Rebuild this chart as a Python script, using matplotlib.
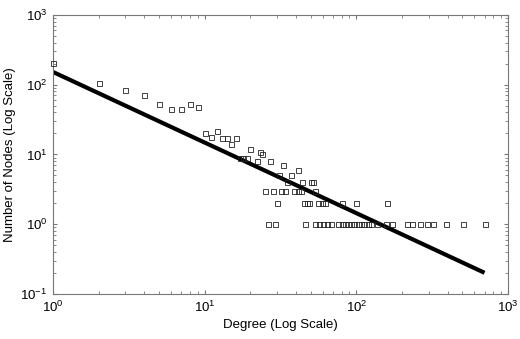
import numpy as np
import matplotlib
matplotlib.use("Agg")
import matplotlib.pyplot as plt

plt.rcParams['font.family'] = ['Liberation Sans', 'DejaVu Sans']
plt.rcParams['mathtext.default'] = 'regular'

# degree distribution (degree, number of nodes)
deg_many = [1, 2, 3, 4, 5, 6, 7, 8, 9, 10, 11, 12, 13, 14, 15, 16]
cnt_many = [205, 105, 85, 72, 52, 45, 45, 52, 48, 20, 18, 22, 17, 17, 14, 17]

deg_mid = [17, 18, 19, 20, 22, 23, 24, 27, 31, 33, 37, 41, 35, 44, 50, 52]
cnt_mid = [9, 9, 9, 12, 8, 11, 10, 8, 5, 7, 5, 6, 4, 4, 4, 4]

deg_three = [25, 28, 32, 34, 39, 41, 43, 53]
deg_two = [30, 45, 47, 49, 56, 59, 62, 80, 100, 160]
deg_one = [26, 29, 46, 53, 57, 60, 64, 68, 76, 80, 84, 88, 92, 97, 102, 107,
           113, 119, 124, 137, 157, 172, 216, 232, 263, 290, 320, 390, 505, 700]

# power-law fit shown as the thick line
fit_coef = 152.0
fit_exp = -1.012
fit_xmax = 700

deg = deg_many + deg_mid + deg_three + deg_two + deg_one
cnt = (cnt_many + cnt_mid + [3] * len(deg_three) + [2] * len(deg_two)
       + [1] * len(deg_one))

fig = plt.figure(figsize=(5.2, 3.39), dpi=100)
ax = fig.add_axes([0.102, 0.133, 0.875, 0.823])

ax.plot(deg, cnt, linestyle='none', marker='s', markersize=3.6,
        markerfacecolor='none', markeredgecolor='#222222',
        markeredgewidth=0.6, clip_on=False, zorder=3)

xf = np.array([1.0, fit_xmax])
ax.plot(xf, fit_coef * xf ** fit_exp, color='black', linewidth=3.0,
        solid_capstyle='butt', zorder=2)

ax.set_xscale('log')
ax.set_yscale('log')
ax.set_xlim(1, 1000)
ax.set_ylim(0.1, 1000)

for s in ax.spines.values():
    s.set_color('#777777')
    s.set_linewidth(0.8)
ax.tick_params(which='both', direction='in', top=True, right=True,
               color='#777777', labelsize=9.5, pad=4)
ax.tick_params(which='major', length=3)
ax.tick_params(which='minor', length=2)

ax.set_xlabel('Degree (Log Scale)', fontsize=9.5, labelpad=3)
ax.set_ylabel('Number of Nodes (Log Scale)', fontsize=9.5, labelpad=3)

fig.savefig('out.png', dpi=100)
